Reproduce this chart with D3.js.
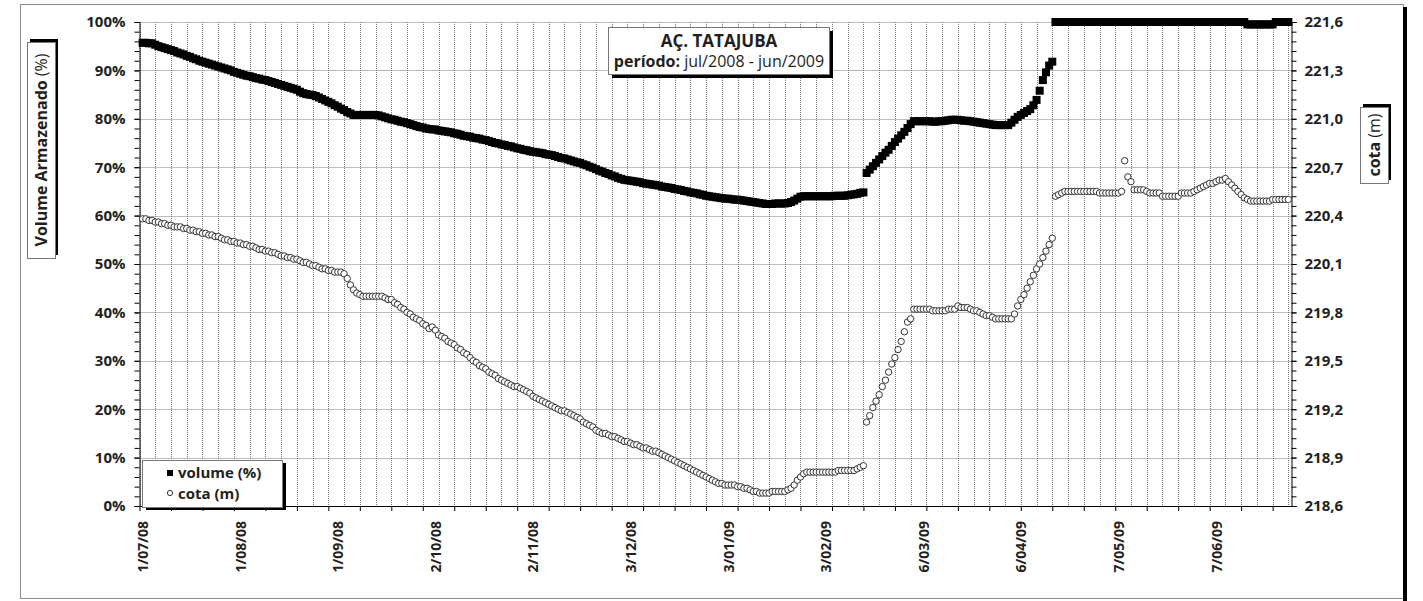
<!DOCTYPE html>
<html>
<head>
<meta charset="utf-8">
<script src="https://cdn.jsdelivr.net/npm/d3@7"></script>
<style>
  body { margin: 0; background: #fff; }
  svg { display: block; font-family: "Open Sans", sans-serif; }
  .axis text { font-size: 15px; font-weight: bold; fill: #231f20; font-family: "Open Sans", sans-serif; }
  .axis path, .axis line { stroke: #000; }
  .grid line { stroke: #7a7a7a; stroke-dasharray: 1,1; }
</style>
</head>
<body>
<svg id="chart" width="1423" height="601"></svg>
<script>
// daily readings, first day 1/07/08
const startDate = "1/07/08";

// volume armazenado (%)
const volume = [
  // jul/08
  95.7, 95.7, 95.6, 95.6, 95.3, 95.0, 94.8, 94.6, 94.4, 94.2, 94.0, 93.7, 93.5, 93.3, 93.0, 92.8,
  92.5, 92.3, 92.0, 91.8, 91.6, 91.4, 91.2, 91.0, 90.8, 90.6, 90.4, 90.2, 90.0, 89.7, 89.5,
  // ago/08
  89.3, 89.1, 88.9, 88.8, 88.6, 88.4, 88.3, 88.1, 88.0, 87.8, 87.6, 87.4, 87.2, 87.0, 86.8, 86.6,
  86.4, 86.2, 86.0, 85.6, 85.3, 85.1, 85.0, 84.9, 84.7, 84.4, 84.1, 83.8, 83.5, 83.2, 82.8,
  // set/08
  82.5, 82.1, 81.8, 81.4, 81.1, 80.8, 80.8, 80.8, 80.8, 80.8, 80.8, 80.8, 80.8, 80.7, 80.5,
  80.3, 80.1, 79.9, 79.8, 79.6, 79.4, 79.3, 79.1, 78.9, 78.7, 78.5, 78.3, 78.2, 78.0, 77.9,
  // out/08
  77.8, 77.8, 77.6, 77.5, 77.4, 77.3, 77.2, 77.0, 76.9, 76.7, 76.5, 76.4, 76.3, 76.1, 76.0, 75.9,
  75.7, 75.6, 75.4, 75.2, 75.0, 74.9, 74.7, 74.6, 74.4, 74.3, 74.1, 73.9, 73.8, 73.6, 73.5,
  // nov/08
  73.3, 73.2, 73.1, 73.0, 72.9, 72.7, 72.6, 72.5, 72.3, 72.1, 71.9, 71.8, 71.6, 71.4, 71.2,
  71.0, 70.9, 70.6, 70.4, 70.1, 69.9, 69.6, 69.3, 69.1, 68.8, 68.6, 68.3, 68.1, 67.8, 67.6,
  // dez/08
  67.4, 67.3, 67.2, 67.1, 67.0, 66.9, 66.7, 66.6, 66.5, 66.4, 66.3, 66.2, 66.0, 65.9, 65.8, 65.7,
  65.5, 65.4, 65.3, 65.1, 65.0, 64.8, 64.7, 64.6, 64.4, 64.3, 64.1, 64.0, 63.9, 63.8, 63.7,
  // jan/09
  63.6, 63.5, 63.5, 63.4, 63.3, 63.3, 63.2, 63.1, 63.0, 62.9, 62.8, 62.7, 62.6, 62.5, 62.4, 62.4,
  62.4, 62.5, 62.5, 62.5, 62.5, 62.6, 62.8, 63.1, 63.5, 63.9, 64.0, 64.0, 64.0, 64.0, 64.0,
  // fev/09
  64.0, 64.0, 64.0, 64.0, 64.0, 64.1, 64.1, 64.1, 64.1, 64.2, 64.3, 64.4, 64.5, 64.7,
  64.8, 68.8, 69.5, 70.2, 70.9, 71.6, 72.3, 73.0, 73.6, 74.4, 75.2, 75.9, 76.6, 77.3,
  // mar/09
  78.1, 78.9, 79.5, 79.5, 79.5, 79.5, 79.5, 79.5, 79.4, 79.4, 79.5, 79.5, 79.6, 79.7, 79.8, 79.8,
  79.8, 79.7, 79.6, 79.6, 79.5, 79.4, 79.3, 79.2, 79.1, 79.0, 78.9, 78.8, 78.7, 78.7, 78.7,
  // abr/09
  78.7, 78.7, 79.2, 79.8, 80.4, 80.8, 81.2, 81.6, 82.0, 82.8, 83.9, 85.8, 88.0, 89.6, 91.0,
  91.8, 100, 100, 100, 100, 100, 100, 100, 100, 100, 100, 100, 100, 100, 100,
  // mai/09
  100, 100, 100, 100, 100, 100, 100, 100, 100, 100, 100, 100, 100, 100, 100, 100,
  100, 100, 100, 100, 100, 100, 100, 100, 100, 100, 100, 100, 100, 100, 100,
  // jun/09
  100, 100, 100, 100, 100, 100, 100, 100, 100, 100, 100, 100, 100, 100, 100,
  100, 99.5, 99.5, 99.5, 99.5, 99.5, 99.5, 99.5, 99.5, 99.5, 100, 100, 100, 100, 100,
];

// cota (m)
const cota = [
  // jul/08
  220.38, 220.38, 220.37, 220.37, 220.36, 220.36, 220.35, 220.35, 220.34, 220.34, 220.33,
  220.33, 220.33, 220.32, 220.32, 220.31, 220.31, 220.30, 220.30, 220.29, 220.29, 220.28,
  220.28, 220.27, 220.27, 220.26, 220.25, 220.25, 220.24, 220.24, 220.23,
  // ago/08
  220.23, 220.22, 220.22, 220.21, 220.21, 220.20, 220.19, 220.19, 220.18, 220.18, 220.17,
  220.17, 220.16, 220.15, 220.15, 220.14, 220.14, 220.13, 220.13, 220.12, 220.11, 220.11,
  220.10, 220.09, 220.09, 220.08, 220.07, 220.07, 220.06, 220.06, 220.05,
  // set/08
  220.05, 220.05, 220.04, 220.01, 219.97, 219.94, 219.92, 219.91, 219.90, 219.90, 219.90,
  219.90, 219.90, 219.90, 219.90, 219.89, 219.88, 219.88, 219.86, 219.85, 219.83, 219.82,
  219.80, 219.79, 219.77, 219.76, 219.75, 219.73, 219.72, 219.70,
  // out/08
  219.71, 219.69, 219.66, 219.65, 219.64, 219.62, 219.61, 219.60, 219.58, 219.57, 219.55,
  219.54, 219.52, 219.50, 219.49, 219.47, 219.46, 219.45, 219.43, 219.42, 219.41, 219.39,
  219.38, 219.37, 219.36, 219.35, 219.34, 219.34, 219.33, 219.32, 219.31,
  // nov/08
  219.30, 219.28, 219.27, 219.26, 219.25, 219.24, 219.23, 219.22, 219.21, 219.20, 219.19,
  219.19, 219.18, 219.17, 219.16, 219.15, 219.14, 219.12, 219.11, 219.10, 219.09, 219.07,
  219.06, 219.05, 219.05, 219.04, 219.03, 219.03, 219.02, 219.01,
  // dez/08
  219.00, 219.00, 218.99, 218.98, 218.98, 218.97, 218.96, 218.96, 218.95, 218.94, 218.94,
  218.93, 218.92, 218.91, 218.90, 218.89, 218.88, 218.87, 218.86, 218.85, 218.84, 218.83,
  218.82, 218.81, 218.80, 218.79, 218.78, 218.77, 218.76, 218.75, 218.74,
  // jan/09
  218.74, 218.73, 218.73, 218.73, 218.73, 218.72, 218.72, 218.71, 218.71, 218.70, 218.69,
  218.69, 218.68, 218.68, 218.68, 218.68, 218.69, 218.69, 218.69, 218.69, 218.69, 218.70,
  218.71, 218.73, 218.76, 218.78, 218.80, 218.81, 218.81, 218.81, 218.81,
  // fev/09
  218.81, 218.81, 218.81, 218.81, 218.81, 218.81, 218.82, 218.82, 218.82, 218.82, 218.82,
  218.82, 218.83, 218.84, 218.85, 219.12, 219.16, 219.21, 219.25, 219.29, 219.34, 219.38,
  219.43, 219.48, 219.52, 219.57, 219.62, 219.68,
  // mar/09
  219.74, 219.76, 219.82, 219.82, 219.82, 219.82, 219.82, 219.82, 219.81, 219.81, 219.81,
  219.81, 219.81, 219.82, 219.82, 219.82, 219.84, 219.83, 219.83, 219.83, 219.82, 219.81,
  219.81, 219.80, 219.79, 219.78, 219.78, 219.77, 219.76, 219.76, 219.76,
  // abr/09
  219.76, 219.76, 219.76, 219.79, 219.84, 219.88, 219.91, 219.95, 219.99, 220.03, 220.07,
  220.10, 220.14, 220.18, 220.22, 220.26, 220.52, 220.53, 220.54, 220.55, 220.55, 220.55,
  220.55, 220.55, 220.55, 220.55, 220.55, 220.55, 220.55, 220.55,
  // mai/09
  220.54, 220.54, 220.54, 220.54, 220.54, 220.54, 220.54, 220.55, 220.74, 220.64, 220.61,
  220.56, 220.56, 220.56, 220.56, 220.55, 220.54, 220.54, 220.54, 220.54, 220.52, 220.52,
  220.52, 220.52, 220.52, 220.52, 220.54, 220.54, 220.54, 220.54, 220.55,
  // jun/09
  220.56, 220.57, 220.58, 220.59, 220.60, 220.60, 220.61, 220.62, 220.62, 220.63, 220.61,
  220.59, 220.57, 220.55, 220.53, 220.51, 220.50, 220.49, 220.49, 220.49, 220.49, 220.49,
  220.49, 220.49, 220.50, 220.50, 220.50, 220.50, 220.50, 220.50,
];

const xTickLabels = [
  "1/07/08", "1/08/08", "1/09/08", "2/10/08", "2/11/08", "3/12/08",
  "3/01/09", "3/02/09", "6/03/09", "6/04/09", "7/05/09", "7/06/09",
];
const leftTicks = [0, 10, 20, 30, 40, 50, 60, 70, 80, 90, 100];
const rightTicks = [218.6, 218.9, 219.2, 219.5, 219.8, 220.1, 220.4, 220.7, 221.0, 221.3, 221.6];

const svg = d3.select("#chart");
const width = 1423;
const height = 601;
const plot = { left: 139.5, right: 1291.5, top: 22, bottom: 506 };

const parseDate = d3.timeParse("%d/%m/%y");
const t0 = parseDate(startDate);
const rows = volume.map((v, i) => ({
  date: d3.timeDay.offset(t0, i),
  volume: v,
  cota: cota[i],
}));

const xScale = d3
  .scaleTime()
  .domain([d3.timeDay.offset(t0, -1), d3.timeDay.offset(t0, 365)])
  .range([plot.left, plot.right]);

const yLeft = d3.scaleLinear().domain([0, 100]).range([plot.bottom, plot.top]);
const yRight = d3.scaleLinear().domain([218.6, 221.6]).range([plot.bottom, plot.top]);

// outer frame
svg.append("rect")
  .attr("x", 20.5).attr("y", 4.5)
  .attr("width", 1383).attr("height", 594)
  .attr("fill", "#fff").attr("stroke", "#8c8c8c");
svg.append("line")
  .attr("x1", 1405).attr("x2", 1405).attr("y1", 7).attr("y2", height)
  .attr("stroke", "#000").attr("stroke-width", 4);

// grid
const gridDays = d3.timeDay.range(xScale.domain()[0], d3.timeDay.offset(xScale.domain()[1], 1), 5);
svg.append("g").attr("class", "grid")
  .selectAll("line")
  .data(gridDays)
  .join("line")
  .attr("x1", (d) => Math.round(xScale(d)) + 0.5)
  .attr("x2", (d) => Math.round(xScale(d)) + 0.5)
  .attr("y1", plot.top)
  .attr("y2", plot.bottom);

svg.append("g").attr("class", "grid")
  .selectAll("line")
  .data(leftTicks.slice(1))
  .join("line")
  .attr("x1", plot.left)
  .attr("x2", plot.right)
  .attr("y1", (d) => Math.round(yLeft(d)) + 0.5)
  .attr("y2", (d) => Math.round(yLeft(d)) + 0.5);

// left axis
const leftAxisG = svg.append("g")
  .attr("class", "axis")
  .attr("transform", `translate(${plot.left},0)`);
leftAxisG.call(d3.axisLeft(yLeft).tickValues(d3.range(0, 101, 2)).tickSize(5).tickFormat(""));
leftAxisG.append("g")
  .call(d3.axisLeft(yLeft).tickValues(leftTicks).tickSize(5).tickPadding(9).tickFormat((d) => d + "%"))
  .call((g) => g.select(".domain").remove());

// right axis
const fmtComma = (d) => d3.format(".1f")(d).replace(".", ",");
const rightAxisG = svg.append("g")
  .attr("class", "axis")
  .attr("transform", `translate(${plot.right},0)`);
rightAxisG.call(d3.axisRight(yRight).tickValues(d3.range(0, 51).map((k) => 218.6 + k * 0.06)).tickSize(5).tickFormat(""));
rightAxisG.append("g")
  .call(d3.axisRight(yRight).tickValues(rightTicks).tickSize(5).tickPadding(8).tickFormat(fmtComma))
  .call((g) => g.select(".domain").remove());

// x axis
const labelDates = xTickLabels.map(parseDate);
const xAxisG = svg.append("g")
  .attr("class", "axis")
  .attr("transform", `translate(0,${plot.bottom})`);
xAxisG.call(
  d3.axisBottom(xScale)
    .tickValues(d3.timeDay.range(xScale.domain()[0], xScale.domain()[1], 10))
    .tickSize(5)
    .tickSizeOuter(0)
    .tickFormat("")
);
xAxisG.append("g")
  .call(d3.axisBottom(xScale).tickValues(labelDates).tickSize(0).tickFormat((d, i) => xTickLabels[i]))
  .call((g) => g.select(".domain").remove())
  .selectAll("text")
  .attr("transform", "rotate(-90)")
  .attr("x", -15)
  .attr("y", 0)
  .attr("dy", "0.36em")
  .style("text-anchor", "end")
  .style("font-size", "14px");

// cota series: hollow circles
svg.append("g")
  .selectAll("circle")
  .data(rows)
  .join("circle")
  .attr("cx", (d) => xScale(d.date))
  .attr("cy", (d) => yRight(d.cota))
  .attr("r", 3.2)
  .attr("fill", "#fff")
  .attr("stroke", "#333")
  .attr("stroke-width", 1);

// volume series: black squares
const sq = 8;
svg.append("g")
  .selectAll("rect")
  .data(rows)
  .join("rect")
  .attr("x", (d) => xScale(d.date) - sq / 2)
  .attr("y", (d) => yLeft(d.volume) - sq / 2)
  .attr("width", sq)
  .attr("height", sq)
  .attr("fill", "#000");

// boxes with drop shadow
const shadowBox = (x, y, w, h, dx, dy) => {
  const g = svg.append("g");
  g.append("rect").attr("x", x + dx).attr("y", y + dy).attr("width", w).attr("height", h).attr("fill", "#000");
  g.append("rect").attr("x", x + 0.5).attr("y", y + 0.5).attr("width", w).attr("height", h)
    .attr("fill", "#fff").attr("stroke", "#777");
  return g;
};

// title
const titleG = shadowBox(608, 27, 221, 47, 4, 4);
titleG.append("text")
  .attr("x", 719).attr("y", 47)
  .attr("text-anchor", "middle")
  .style("font-size", "17px").style("font-weight", "bold").attr("fill", "#231f20")
  .text("AÇ. TATAJUBA");
const sub = titleG.append("text")
  .attr("x", 719).attr("y", 67)
  .attr("text-anchor", "middle")
  .style("font-size", "16px").attr("fill", "#231f20");
sub.append("tspan").style("font-weight", "bold").text("período: ");
sub.append("tspan").text("jul/2008 - jun/2009");

// legend
const legendG = shadowBox(142, 460, 140, 47, 4, 3);
legendG.append("rect").attr("x", 167).attr("y", 470).attr("width", 6).attr("height", 6).attr("fill", "#000");
legendG.append("circle").attr("cx", 170).attr("cy", 493).attr("r", 2.6).attr("fill", "#fff").attr("stroke", "#333");
legendG.append("text").attr("x", 178).attr("y", 478)
  .style("font-size", "15px").style("font-weight", "bold").attr("fill", "#231f20").text("volume (%)");
legendG.append("text").attr("x", 178).attr("y", 499)
  .style("font-size", "15px").style("font-weight", "bold").attr("fill", "#231f20").text("cota (m)");

// left axis title
const leftTitleG = shadowBox(27, 42, 28, 216, 3, -3);
const lt = leftTitleG.append("text")
  .attr("transform", "translate(47,150) rotate(-90)")
  .attr("text-anchor", "middle")
  .style("font-size", "16px").attr("fill", "#231f20");
lt.append("tspan").style("font-weight", "bold").text("Volume Armazenado ");
lt.append("tspan").text("(%)");

// right axis title
const rightTitleG = shadowBox(1360, 107, 28, 76, 3, -3);
const rt = rightTitleG.append("text")
  .attr("transform", "translate(1380,145) rotate(-90)")
  .attr("text-anchor", "middle")
  .style("font-size", "16px").attr("fill", "#231f20");
rt.append("tspan").style("font-weight", "bold").text("cota ");
rt.append("tspan").text("(m)");
</script>
</body>
</html>
